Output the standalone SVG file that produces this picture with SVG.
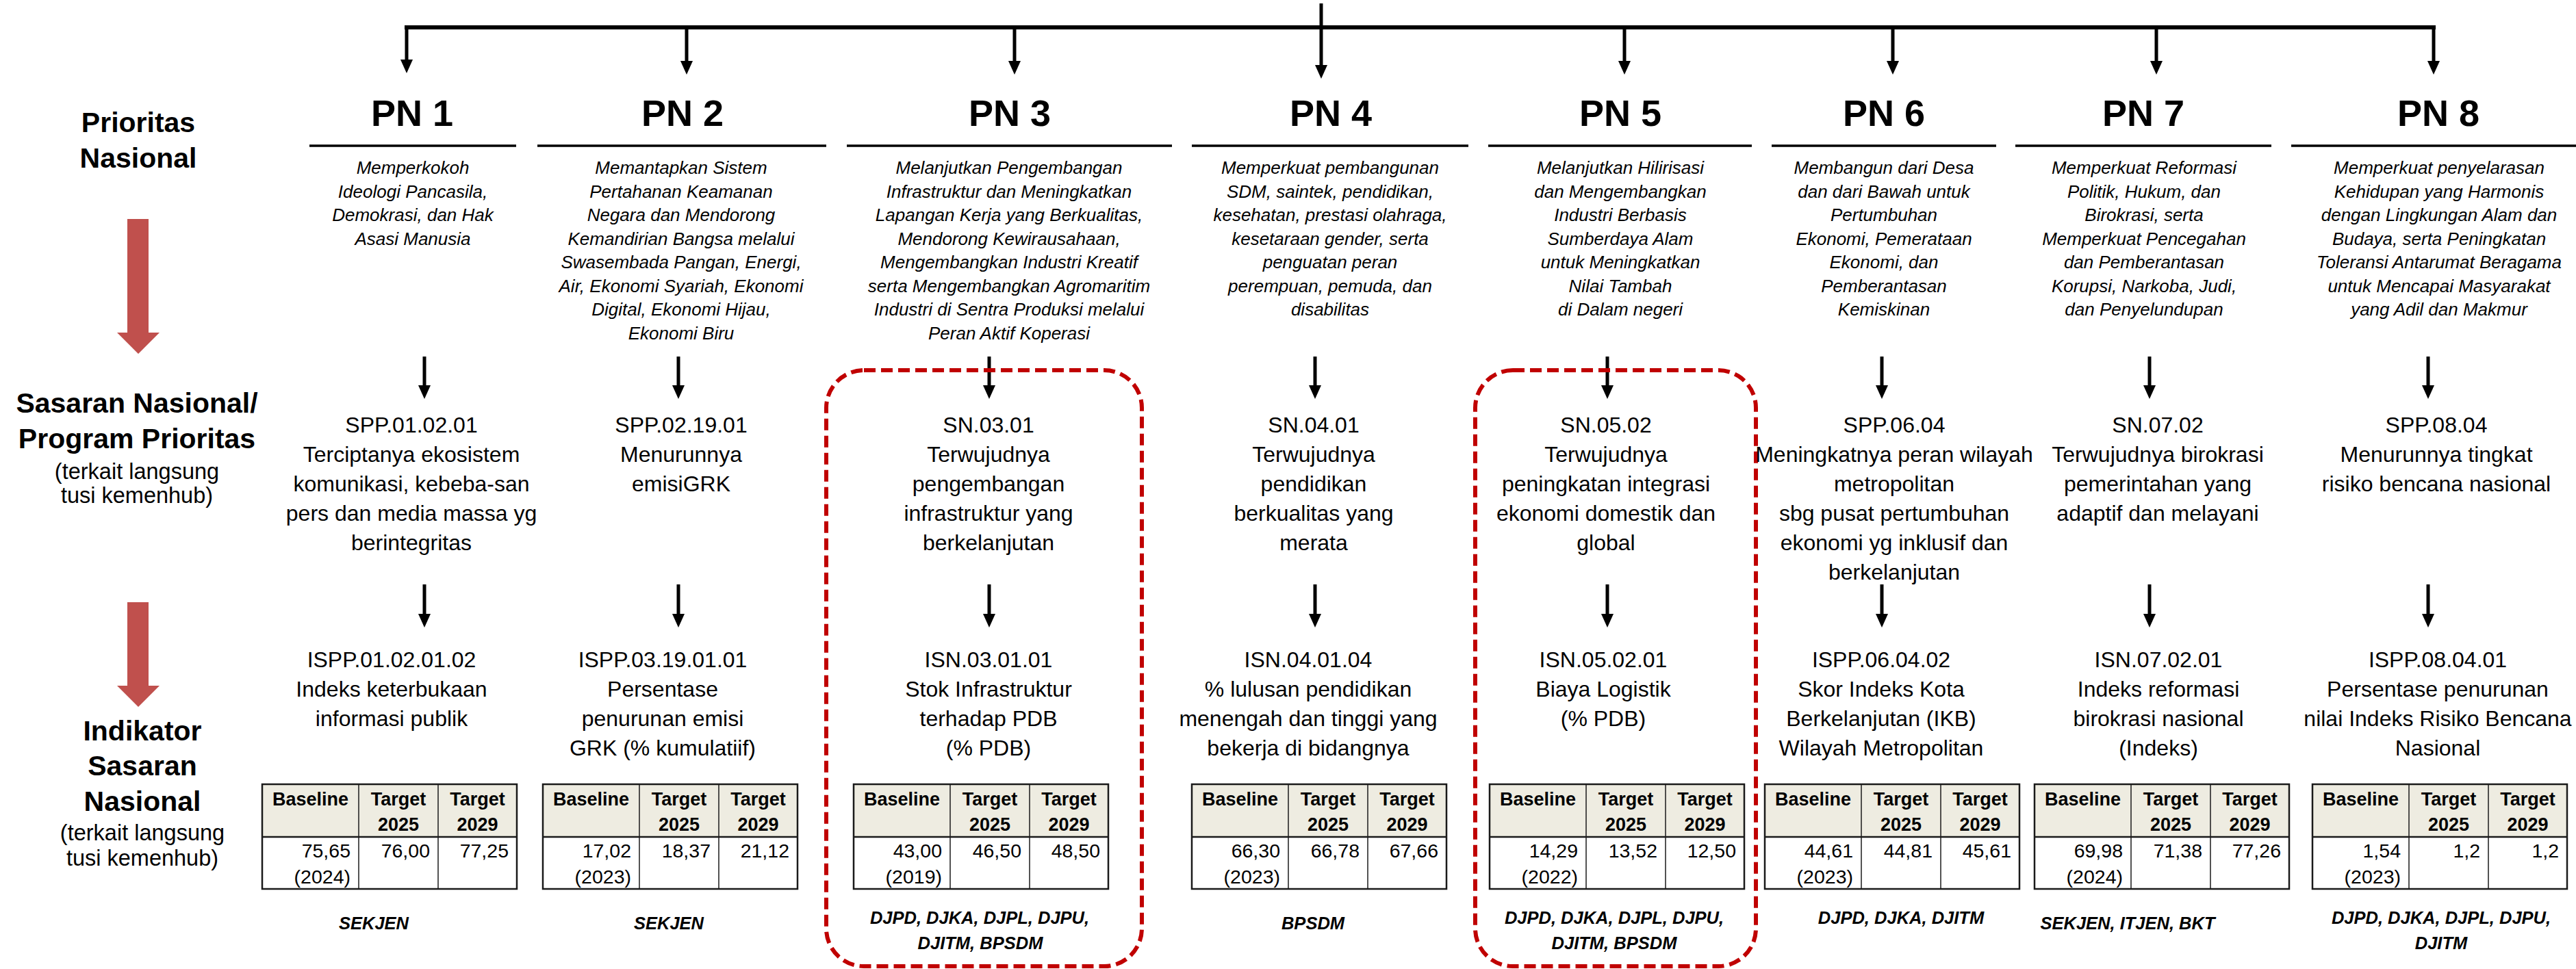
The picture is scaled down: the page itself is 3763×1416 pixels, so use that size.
<svg xmlns="http://www.w3.org/2000/svg" width="3763" height="1416" viewBox="0 0 3763 1416">
<style>
text{font-family:"Liberation Sans",Arial,sans-serif;fill:#000;text-anchor:middle}
.lbl{font-size:41px;font-weight:bold}
.sub{font-size:32.5px}
.pn{font-size:54px;font-weight:bold}
.desc{font-size:26px;font-style:italic}
.sn{font-size:32px}
.th{font-size:27px;font-weight:bold}
.td{font-size:28.5px;text-anchor:end}
.dept{font-size:25.5px;font-weight:bold;font-style:italic}
.ul{stroke:#000;stroke-width:3.5}
.bus{stroke:#000;stroke-width:6;stroke-linecap:square}
.arr{stroke:#000;stroke-width:5;fill:none}
.red{fill:#C0504D}
.hl{fill:none;stroke:#C00000;stroke-width:6;stroke-dasharray:17 8}
.hdr{fill:#EEECE1}
.cell{fill:#fff}
.tb{fill:none;stroke:#1a1a1a;stroke-width:2.5}
.tl{stroke:#1a1a1a;stroke-width:1.5}
.tl2{stroke:#1a1a1a;stroke-width:2.5}
</style>
<defs>
<marker id="ah" viewBox="0 0 20 18" markerWidth="20" markerHeight="18" refX="10" refY="9" orient="auto" markerUnits="userSpaceOnUse"><path d="M0,0 L20,9 L0,18 Z" fill="#000"/></marker>
<g id="tbl">
<rect class="hdr" x="0" y="0" width="372" height="77"/>
<rect class="cell" x="0" y="77" width="372" height="76"/>
<line class="tl" x1="141" y1="0" x2="141" y2="153"/>
<line class="tl" x1="257" y1="0" x2="257" y2="153"/>
<line class="tl2" x1="0" y1="77" x2="372" y2="77"/>
<rect class="tb" x="0" y="0" width="372" height="153"/>
<text class="th" x="70.5" y="31">Baseline</text>
<text class="th" x="199" y="31">Target</text>
<text class="th" x="199" y="68">2025</text>
<text class="th" x="314.5" y="31">Target</text>
<text class="th" x="314.5" y="68">2029</text>
</g>
</defs>
<rect x="0" y="0" width="3763" height="1416" fill="#fff"/>

<g id="connectors">
<line class="bus" x1="594" y1="40" x2="3555" y2="40"/>
<line class="arr" x1="1930" y1="5" x2="1930" y2="105" marker-end="url(#ah)"/>
<line class="arr" x1="594" y1="40" x2="594" y2="97" marker-end="url(#ah)"/>
<line class="arr" x1="1003" y1="40" x2="1003" y2="99" marker-end="url(#ah)"/>
<line class="arr" x1="1482" y1="40" x2="1482" y2="99" marker-end="url(#ah)"/>
<line class="arr" x1="2373" y1="40" x2="2373" y2="99" marker-end="url(#ah)"/>
<line class="arr" x1="2765" y1="40" x2="2765" y2="99" marker-end="url(#ah)"/>
<line class="arr" x1="3150" y1="40" x2="3150" y2="99" marker-end="url(#ah)"/>
<line class="arr" x1="3555" y1="40" x2="3555" y2="99" marker-end="url(#ah)"/>
<line class="arr" x1="620" y1="521" x2="620" y2="573" marker-end="url(#ah)"/>
<line class="arr" x1="991" y1="521" x2="991" y2="573" marker-end="url(#ah)"/>
<line class="arr" x1="1445" y1="521" x2="1445" y2="573" marker-end="url(#ah)"/>
<line class="arr" x1="1921" y1="521" x2="1921" y2="573" marker-end="url(#ah)"/>
<line class="arr" x1="2348" y1="521" x2="2348" y2="573" marker-end="url(#ah)"/>
<line class="arr" x1="2749" y1="521" x2="2749" y2="573" marker-end="url(#ah)"/>
<line class="arr" x1="3140" y1="521" x2="3140" y2="573" marker-end="url(#ah)"/>
<line class="arr" x1="3547" y1="521" x2="3547" y2="573" marker-end="url(#ah)"/>
<line class="arr" x1="620" y1="854" x2="620" y2="907" marker-end="url(#ah)"/>
<line class="arr" x1="991" y1="854" x2="991" y2="907" marker-end="url(#ah)"/>
<line class="arr" x1="1445" y1="854" x2="1445" y2="907" marker-end="url(#ah)"/>
<line class="arr" x1="1921" y1="854" x2="1921" y2="907" marker-end="url(#ah)"/>
<line class="arr" x1="2348" y1="854" x2="2348" y2="907" marker-end="url(#ah)"/>
<line class="arr" x1="2749" y1="854" x2="2749" y2="907" marker-end="url(#ah)"/>
<line class="arr" x1="3140" y1="854" x2="3140" y2="907" marker-end="url(#ah)"/>
<line class="arr" x1="3547" y1="854" x2="3547" y2="907" marker-end="url(#ah)"/>
</g>

<g id="left-labels">
<polygon class="red" points="186,320 217,320 217,486 233,486 202,517 171,486 186,486"/>
<polygon class="red" points="186,880 217,880 217,1002 233,1002 202,1033 171,1002 186,1002"/>
<text class="lbl" x="202" y="193">Prioritas</text>
<text class="lbl" x="202" y="245">Nasional</text>
<text class="lbl" x="200" y="603">Sasaran Nasional/</text>
<text class="lbl" x="200" y="655">Program Prioritas</text>
<text class="sub" x="200" y="700">(terkait langsung</text>
<text class="sub" x="200" y="735">tusi kemenhub)</text>
<text class="lbl" x="208" y="1082">Indikator</text>
<text class="lbl" x="208" y="1133">Sasaran</text>
<text class="lbl" x="208" y="1185">Nasional</text>
<text class="sub" x="208" y="1228">(terkait langsung</text>
<text class="sub" x="208" y="1265">tusi kemenhub)</text>
</g>

<g id="highlights">
<rect class="hl" x="1207" y="541" width="461" height="871" rx="55"/>
<rect class="hl" x="2155" y="541" width="410" height="871" rx="55"/>
</g>

<g id="pn1">
<text class="pn" x="602" y="184">PN 1</text>
<line class="ul" x1="452" y1="213" x2="754" y2="213"/>
<text class="desc" x="603" y="254"><tspan x="603">Memperkokoh</tspan><tspan x="603" dy="34.5">Ideologi Pancasila,</tspan><tspan x="603" dy="34.5">Demokrasi, dan Hak</tspan><tspan x="603" dy="34.5">Asasi Manusia</tspan></text>
</g>
<g id="pn2">
<text class="pn" x="997" y="184">PN 2</text>
<line class="ul" x1="785" y1="213" x2="1207" y2="213"/>
<text class="desc" x="995" y="254"><tspan x="995">Memantapkan Sistem</tspan><tspan x="995" dy="34.5">Pertahanan Keamanan</tspan><tspan x="995" dy="34.5">Negara dan Mendorong</tspan><tspan x="995" dy="34.5">Kemandirian Bangsa melalui</tspan><tspan x="995" dy="34.5">Swasembada Pangan, Energi,</tspan><tspan x="995" dy="34.5">Air, Ekonomi Syariah, Ekonomi</tspan><tspan x="995" dy="34.5">Digital, Ekonomi Hijau,</tspan><tspan x="995" dy="34.5">Ekonomi Biru</tspan></text>
</g>
<g id="pn3">
<text class="pn" x="1475" y="184">PN 3</text>
<line class="ul" x1="1237" y1="213" x2="1712" y2="213"/>
<text class="desc" x="1474" y="254"><tspan x="1474">Melanjutkan Pengembangan</tspan><tspan x="1474" dy="34.5">Infrastruktur dan Meningkatkan</tspan><tspan x="1474" dy="34.5">Lapangan Kerja yang Berkualitas,</tspan><tspan x="1474" dy="34.5">Mendorong Kewirausahaan,</tspan><tspan x="1474" dy="34.5">Mengembangkan Industri Kreatif</tspan><tspan x="1474" dy="34.5">serta Mengembangkan Agromaritim</tspan><tspan x="1474" dy="34.5">Industri di Sentra Produksi melalui</tspan><tspan x="1474" dy="34.5">Peran Aktif Koperasi</tspan></text>
</g>
<g id="pn4">
<text class="pn" x="1944" y="184">PN 4</text>
<line class="ul" x1="1741" y1="213" x2="2145" y2="213"/>
<text class="desc" x="1943" y="254"><tspan x="1943">Memperkuat pembangunan</tspan><tspan x="1943" dy="34.5">SDM, saintek, pendidikan,</tspan><tspan x="1943" dy="34.5">kesehatan, prestasi olahraga,</tspan><tspan x="1943" dy="34.5">kesetaraan gender, serta</tspan><tspan x="1943" dy="34.5">penguatan peran</tspan><tspan x="1943" dy="34.5">perempuan, pemuda, dan</tspan><tspan x="1943" dy="34.5">disabilitas</tspan></text>
</g>
<g id="pn5">
<text class="pn" x="2367" y="184">PN 5</text>
<line class="ul" x1="2174" y1="213" x2="2559" y2="213"/>
<text class="desc" x="2367" y="254"><tspan x="2367">Melanjutkan Hilirisasi</tspan><tspan x="2367" dy="34.5">dan Mengembangkan</tspan><tspan x="2367" dy="34.5">Industri Berbasis</tspan><tspan x="2367" dy="34.5">Sumberdaya Alam</tspan><tspan x="2367" dy="34.5">untuk Meningkatkan</tspan><tspan x="2367" dy="34.5">Nilai Tambah</tspan><tspan x="2367" dy="34.5">di Dalam negeri</tspan></text>
</g>
<g id="pn6">
<text class="pn" x="2752" y="184">PN 6</text>
<line class="ul" x1="2588" y1="213" x2="2916" y2="213"/>
<text class="desc" x="2752" y="254"><tspan x="2752">Membangun dari Desa</tspan><tspan x="2752" dy="34.5">dan dari Bawah untuk</tspan><tspan x="2752" dy="34.5">Pertumbuhan</tspan><tspan x="2752" dy="34.5">Ekonomi, Pemerataan</tspan><tspan x="2752" dy="34.5">Ekonomi, dan</tspan><tspan x="2752" dy="34.5">Pemberantasan</tspan><tspan x="2752" dy="34.5">Kemiskinan</tspan></text>
</g>
<g id="pn7">
<text class="pn" x="3131" y="184">PN 7</text>
<line class="ul" x1="2944" y1="213" x2="3318" y2="213"/>
<text class="desc" x="3132" y="254"><tspan x="3132">Memperkuat Reformasi</tspan><tspan x="3132" dy="34.5">Politik, Hukum, dan</tspan><tspan x="3132" dy="34.5">Birokrasi, serta</tspan><tspan x="3132" dy="34.5">Memperkuat Pencegahan</tspan><tspan x="3132" dy="34.5">dan Pemberantasan</tspan><tspan x="3132" dy="34.5">Korupsi, Narkoba, Judi,</tspan><tspan x="3132" dy="34.5">dan Penyelundupan</tspan></text>
</g>
<g id="pn8">
<text class="pn" x="3562" y="184">PN 8</text>
<line class="ul" x1="3347" y1="213" x2="3763" y2="213"/>
<text class="desc" x="3563" y="254"><tspan x="3563">Memperkuat penyelarasan</tspan><tspan x="3563" dy="34.5">Kehidupan yang Harmonis</tspan><tspan x="3563" dy="34.5">dengan Lingkungan Alam dan</tspan><tspan x="3563" dy="34.5">Budaya, serta Peningkatan</tspan><tspan x="3563" dy="34.5">Toleransi Antarumat Beragama</tspan><tspan x="3563" dy="34.5">untuk Mencapai Masyarakat</tspan><tspan x="3563" dy="34.5">yang Adil dan Makmur</tspan></text>
</g>

<g id="sn1"><text class="sn" x="601" y="632"><tspan x="601">SPP.01.02.01</tspan><tspan x="601" dy="43">Terciptanya ekosistem</tspan><tspan x="601" dy="43">komunikasi, kebeba-san</tspan><tspan x="601" dy="43">pers dan media massa yg</tspan><tspan x="601" dy="43">berintegritas</tspan></text></g>
<g id="sn2"><text class="sn" x="995" y="632"><tspan x="995">SPP.02.19.01</tspan><tspan x="995" dy="43">Menurunnya</tspan><tspan x="995" dy="43">emisiGRK</tspan></text></g>
<g id="sn3"><text class="sn" x="1444" y="632"><tspan x="1444">SN.03.01</tspan><tspan x="1444" dy="43">Terwujudnya</tspan><tspan x="1444" dy="43">pengembangan</tspan><tspan x="1444" dy="43">infrastruktur yang</tspan><tspan x="1444" dy="43">berkelanjutan</tspan></text></g>
<g id="sn4"><text class="sn" x="1919" y="632"><tspan x="1919">SN.04.01</tspan><tspan x="1919" dy="43">Terwujudnya</tspan><tspan x="1919" dy="43">pendidikan</tspan><tspan x="1919" dy="43">berkualitas yang</tspan><tspan x="1919" dy="43">merata</tspan></text></g>
<g id="sn5"><text class="sn" x="2346" y="632"><tspan x="2346">SN.05.02</tspan><tspan x="2346" dy="43">Terwujudnya</tspan><tspan x="2346" dy="43">peningkatan integrasi</tspan><tspan x="2346" dy="43">ekonomi domestik dan</tspan><tspan x="2346" dy="43">global</tspan></text></g>
<g id="sn6"><text class="sn" x="2767" y="632"><tspan x="2767">SPP.06.04</tspan><tspan x="2767" dy="43">Meningkatnya peran wilayah</tspan><tspan x="2767" dy="43">metropolitan</tspan><tspan x="2767" dy="43">sbg pusat pertumbuhan</tspan><tspan x="2767" dy="43">ekonomi yg inklusif dan</tspan><tspan x="2767" dy="43">berkelanjutan</tspan></text></g>
<g id="sn7"><text class="sn" x="3152" y="632"><tspan x="3152">SN.07.02</tspan><tspan x="3152" dy="43">Terwujudnya birokrasi</tspan><tspan x="3152" dy="43">pemerintahan yang</tspan><tspan x="3152" dy="43">adaptif dan melayani</tspan></text></g>
<g id="sn8"><text class="sn" x="3559" y="632"><tspan x="3559">SPP.08.04</tspan><tspan x="3559" dy="43">Menurunnya tingkat</tspan><tspan x="3559" dy="43">risiko bencana nasional</tspan></text></g>

<g id="isn1"><text class="sn" x="572" y="975"><tspan x="572">ISPP.01.02.01.02</tspan><tspan x="572" dy="43">Indeks keterbukaan</tspan><tspan x="572" dy="43">informasi publik</tspan></text></g>
<g id="isn2"><text class="sn" x="968" y="975"><tspan x="968">ISPP.03.19.01.01</tspan><tspan x="968" dy="43">Persentase</tspan><tspan x="968" dy="43">penurunan emisi</tspan><tspan x="968" dy="43">GRK (% kumulatiif)</tspan></text></g>
<g id="isn3"><text class="sn" x="1444" y="975"><tspan x="1444">ISN.03.01.01</tspan><tspan x="1444" dy="43">Stok Infrastruktur</tspan><tspan x="1444" dy="43">terhadap PDB</tspan><tspan x="1444" dy="43">(% PDB)</tspan></text></g>
<g id="isn4"><text class="sn" x="1911" y="975"><tspan x="1911">ISN.04.01.04</tspan><tspan x="1911" dy="43">% lulusan pendidikan</tspan><tspan x="1911" dy="43">menengah dan tinggi yang</tspan><tspan x="1911" dy="43">bekerja di bidangnya</tspan></text></g>
<g id="isn5"><text class="sn" x="2342" y="975"><tspan x="2342">ISN.05.02.01</tspan><tspan x="2342" dy="43">Biaya Logistik</tspan><tspan x="2342" dy="43">(% PDB)</tspan></text></g>
<g id="isn6"><text class="sn" x="2748" y="975"><tspan x="2748">ISPP.06.04.02</tspan><tspan x="2748" dy="43">Skor Indeks Kota</tspan><tspan x="2748" dy="43">Berkelanjutan (IKB)</tspan><tspan x="2748" dy="43">Wilayah Metropolitan</tspan></text></g>
<g id="isn7"><text class="sn" x="3153" y="975"><tspan x="3153">ISN.07.02.01</tspan><tspan x="3153" dy="43">Indeks reformasi</tspan><tspan x="3153" dy="43">birokrasi nasional</tspan><tspan x="3153" dy="43">(Indeks)</tspan></text></g>
<g id="isn8"><text class="sn" x="3561" y="975"><tspan x="3561">ISPP.08.04.01</tspan><tspan x="3561" dy="43">Persentase penurunan</tspan><tspan x="3561" dy="43">nilai Indeks Risiko Bencana</tspan><tspan x="3561" dy="43">Nasional</tspan></text></g>

<g id="table1" transform="translate(383,1146)"><use href="#tbl"/><text class="td" x="129" y="107">75,65</text><text class="td" x="129" y="145">(2024)</text><text class="td" x="245" y="107">76,00</text><text class="td" x="360" y="107">77,25</text></g>
<g id="table2" transform="translate(793,1146)"><use href="#tbl"/><text class="td" x="129" y="107">17,02</text><text class="td" x="129" y="145">(2023)</text><text class="td" x="245" y="107">18,37</text><text class="td" x="360" y="107">21,12</text></g>
<g id="table3" transform="translate(1247,1146)"><use href="#tbl"/><text class="td" x="129" y="107">43,00</text><text class="td" x="129" y="145">(2019)</text><text class="td" x="245" y="107">46,50</text><text class="td" x="360" y="107">48,50</text></g>
<g id="table4" transform="translate(1741,1146)"><use href="#tbl"/><text class="td" x="129" y="107">66,30</text><text class="td" x="129" y="145">(2023)</text><text class="td" x="245" y="107">66,78</text><text class="td" x="360" y="107">67,66</text></g>
<g id="table5" transform="translate(2176,1146)"><use href="#tbl"/><text class="td" x="129" y="107">14,29</text><text class="td" x="129" y="145">(2022)</text><text class="td" x="245" y="107">13,52</text><text class="td" x="360" y="107">12,50</text></g>
<g id="table6" transform="translate(2578,1146)"><use href="#tbl"/><text class="td" x="129" y="107">44,61</text><text class="td" x="129" y="145">(2023)</text><text class="td" x="245" y="107">44,81</text><text class="td" x="360" y="107">45,61</text></g>
<g id="table7" transform="translate(2972,1146)"><use href="#tbl"/><text class="td" x="129" y="107">69,98</text><text class="td" x="129" y="145">(2024)</text><text class="td" x="245" y="107">71,38</text><text class="td" x="360" y="107">77,26</text></g>
<g id="table8" transform="translate(3378,1146)"><use href="#tbl"/><text class="td" x="129" y="107">1,54</text><text class="td" x="129" y="145">(2023)</text><text class="td" x="245" y="107">1,2</text><text class="td" x="360" y="107">1,2</text></g>

<g id="dept1"><text class="dept" x="546" y="1358">SEKJEN</text></g>
<g id="dept2"><text class="dept" x="977" y="1358">SEKJEN</text></g>
<g id="dept3"><text class="dept" x="1431" y="1350">DJPD, DJKA, DJPL, DJPU,</text><text class="dept" x="1432" y="1387">DJITM, BPSDM</text></g>
<g id="dept4"><text class="dept" x="1918" y="1358">BPSDM</text></g>
<g id="dept5"><text class="dept" x="2358" y="1350">DJPD, DJKA, DJPL, DJPU,</text><text class="dept" x="2358" y="1387">DJITM, BPSDM</text></g>
<g id="dept6"><text class="dept" x="2777" y="1350">DJPD, DJKA, DJITM</text></g>
<g id="dept7"><text class="dept" x="3108" y="1358">SEKJEN, ITJEN, BKT</text></g>
<g id="dept8"><text class="dept" x="3566" y="1350">DJPD, DJKA, DJPL, DJPU,</text><text class="dept" x="3566" y="1387">DJITM</text></g>
</svg>
